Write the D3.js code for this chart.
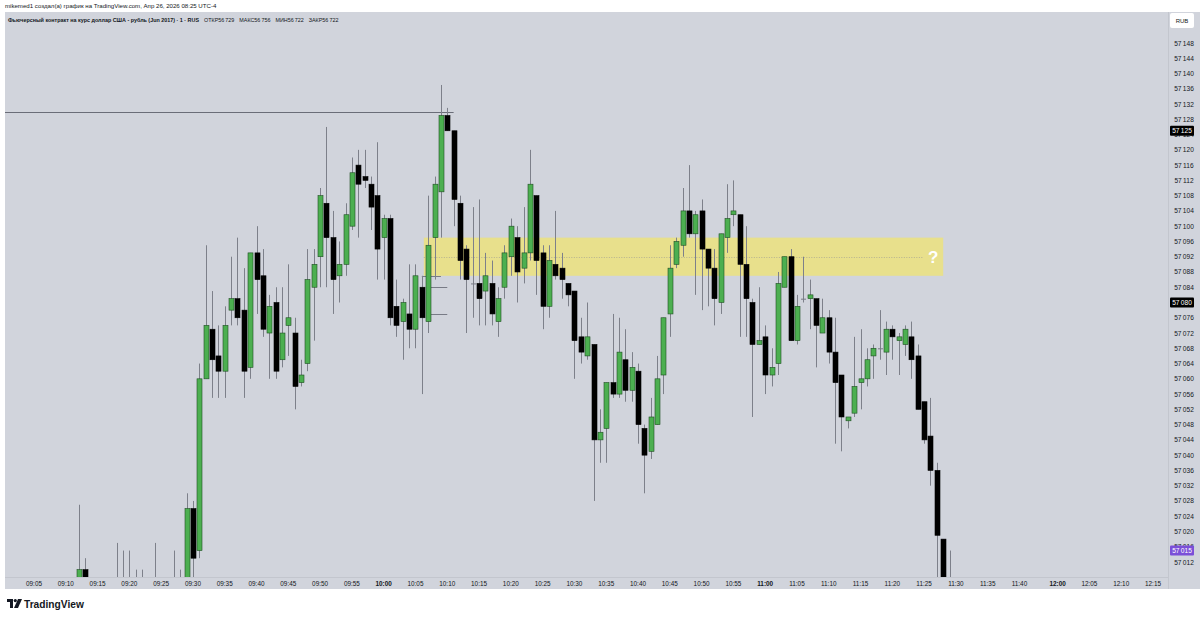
<!DOCTYPE html>
<html>
<head>
<meta charset="utf-8">
<script src="https://cdn.jsdelivr.net/npm/d3@7"></script>
<style>
body { margin: 0; background: #fff; }
svg { display: block; font-family: "Liberation Sans", Arial, sans-serif; }
</style>
</head>
<body>
<script>
// ===== Данные (1-минутные свечи) =====
const times = ["09:12","09:13","09:18","09:19","09:20","09:21","09:22","09:24","09:27","09:28",
  "09:29","09:30","09:31","09:32","09:33","09:34","09:35","09:36","09:37","09:38","09:39","09:40",
  "09:41","09:42","09:43","09:44","09:45","09:46","09:47","09:48","09:49","09:50","09:51","09:52",
  "09:53","09:54","09:55","09:56","09:57","09:58","09:59","10:00","10:01","10:02","10:03","10:04",
  "10:05","10:06","10:07","10:08","10:09","10:10","10:11","10:12","10:13","10:14","10:15","10:16",
  "10:17","10:18","10:19","10:20","10:21","10:22","10:23","10:24","10:25","10:26","10:27","10:28",
  "10:29","10:30","10:31","10:32","10:33","10:34","10:35","10:36","10:37","10:38","10:39","10:40",
  "10:41","10:42","10:43","10:44","10:45","10:46","10:47","10:48","10:49","10:50","10:51","10:52",
  "10:53","10:54","10:55","10:56","10:57","10:58","10:59","11:00","11:01","11:02","11:03","11:04",
  "11:05","11:06","11:07","11:08","11:09","11:10","11:11","11:12","11:13","11:14","11:15","11:16",
  "11:17","11:18","11:19","11:20","11:21","11:22","11:23","11:24","11:25","11:26","11:27","11:28","11:29"];
const opens = [57008,57010,57003,57003,57003,57003,57003,57003,57003,57003,
  57000,57026,57015,57060,57073,57066,57062,57078,57081,57078,57063,57093,
  57087,57072,57080,57065,57074,57072,57059,57064,57084,57092,57106,57097,
  57087,57090,57100,57116,57113,57111,57108,57097,57102,57079,57075,57077,
  57073,57084,57075,57097,57109,57129,57125,57106,57094,57085,57085,57083,
  57085,57075,57084,57092,57097,57089,57093,57108,57093,57079,57090,57089,
  57085,57083,57071,57066,57069,57044,57047,57059,57056,57065,57057,57062,
  57047,57041,57048,57061,57077,57090,57095,57104,57098,57104,57094,57089,
  57080,57097,57103,57103,57090,57080,57069,57071,57061,57064,57084,57092,
  57070,57081,57081,57081,57072,57076,57067,57061,57049,57051,57059,57060,
  57066,57068,57067,57073,57070,57069,57071,57066,57054,57045,57036,57018,57004];
const highs = [57027,57013,57017,57015,57015,57010,57010,57017,57015,57010,
  57030,57028,57064,57095,57083,57074,57079,57092,57097,57089,57093,57100,
  57094,57082,57084,57084,57090,57076,57065,57094,57094,57110,57126,57104,
  57096,57106,57118,57120,57120,57113,57122,57103,57103,57086,57081,57090,
  57090,57087,57108,57113,57137,57131,57125,57108,57095,57105,57107,57093,
  57091,57084,57095,57102,57100,57105,57120,57108,57095,57095,57104,57093,
  57085,57083,57076,57080,57069,57052,57059,57077,57076,57073,57067,57064,
  57048,57055,57066,57076,57095,57097,57110,57116,57104,57107,57094,57094,
  57098,57111,57112,57103,57100,57081,57084,57074,57068,57088,57092,57094,
  57082,57092,57086,57081,57081,57078,57076,57061,57050,57071,57073,57068,
  57069,57078,57075,57074,57072,57074,57075,57069,57054,57055,57038,57018,57015];
const lows = [57000,57004,57000,57000,57000,57000,57000,57000,57000,57000,
  56998,57004,57013,57060,57055,57055,57055,57074,57074,57055,57060,57077,
  57071,57060,57060,57063,57066,57052,57058,57062,57070,57084,57084,57077,
  57080,57087,57099,57097,57110,57099,57086,57086,57074,57071,57065,57068,
  57068,57056,57072,57086,57097,57125,57100,57086,57072,57076,57074,57074,
  57074,57071,57081,57087,57080,57085,57091,57082,57073,57076,57086,57081,
  57079,57060,57064,57065,57028,57038,57038,57055,57055,57054,57054,57043,
  57030,57039,57048,57056,57071,57089,57092,57097,57082,57078,57079,57074,
  57077,57093,57100,57071,57071,57050,57069,57056,57058,57061,57084,57070,
  57069,57080,57073,57063,57072,57064,57043,57041,57047,57050,57052,57058,
  57060,57065,57061,57065,57061,57066,57060,57052,57043,57032,57000,56998,57000];
const closes = [57010,57008,57004,57004,57004,57004,57004,57004,57004,57004,
  57026,57013,57060,57074,57065,57062,57074,57081,57076,57062,57093,57086,
  57073,57079,57062,57072,57076,57058,57061,57086,57090,57108,57097,57086,
  57090,57103,57114,57111,57112,57105,57094,57102,57076,57074,57080,57073,
  57087,57076,57095,57111,57129,57125,57107,57091,57086,57085,57081,57087,
  57077,57081,57093,57100,57088,57093,57111,57091,57079,57091,57087,57086,
  57082,57070,57067,57071,57044,57046,57059,57056,57067,57057,57063,57048,
  57040,57050,57060,57076,57089,57096,57104,57098,57103,57094,57089,57081,
  57098,57102,57104,57090,57081,57069,57070,57061,57063,57085,57092,57070,
  57079,57081,57082,57074,57076,57067,57059,57050,57050,57058,57060,57065,
  57068,57068,57073,57071,57071,57073,57065,57052,57044,57036,57019,57000,57005];

// Подписи оси времени
const timeTicks = ["09:05","09:10","09:15","09:20","09:25","09:30","09:35","09:40","09:45","09:50",
  "09:55","10:00","10:05","10:10","10:15","10:20","10:25","10:30","10:35","10:40","10:45","10:50",
  "10:55","11:00","11:05","11:10","11:15","11:20","11:25","11:30","11:35","11:40",
  "12:00","12:05","12:10","12:15"];

// Легенда (OHLC из заголовка)
const legendNames = ["ОТКР", "МАКС", "МИН", "ЗАКР"];
const legendValues = [56729, 56756, 56722, 56722];

// Ценовые метки на шкале и зона
const lastLines = [57125, 57080];
const currentPrice = 57015;
const highLine = { price: 57130, end: "10:11" };
const shortLevels = [[57087, "10:06", "10:09"], [57084, "10:07", "10:10"], [57077, "10:07", "10:10"]];
const zone = { top: 57097, bottom: 57087, mid: 57092, from: "10:06", to: "11:28" };

// Время -> номер бара (на оси нет баров 11:46–11:59)
function slot(t) {
  const [h, m] = t.split(":").map(Number);
  let s = h * 60 + m - (9 * 60 + 5);
  if (h >= 12) s -= 14;
  return s;
}

// Формат цены с тонким пробелом: 57 148
function fmt(v) {
  return String(v).replace(/^(\d\d)/, "$1\u2009");
}

const W = 1200, H = 619;
const plot = { left: 5, right: 1168, top: 12, bottom: 577 };

const svg = d3.select("body").append("svg").attr("width", W).attr("height", H);

const x = d3.scaleLinear().domain([0, 176]).range([34, 1153]);
const y = d3.scaleLinear().domain([57012, 57148]).range([562, 43]);

// Фон панели
svg.append("rect").attr("x", plot.left).attr("y", plot.top)
  .attr("width", W - plot.left).attr("height", 589 - plot.top).attr("fill", "#d1d4dc");

// Шапка
svg.append("text").attr("x", 5).attr("y", 8).attr("font-size", 6.1).attr("fill", "#131722")
  .text("mikemed1 создал(а) график на TradingView.com, Апр 26, 2026 08:25 UTC-4");

const title = svg.append("text").attr("x", 8).attr("y", 22.3).attr("font-size", 5.4)
  .attr("font-weight", 600).attr("fill", "#131722");
title.append("tspan").text("Фьючерсный контракт на курс доллар США - рубль (Jun 2017) · 1 · RUS");
legendNames.forEach((n, i) => {
  title.append("tspan").attr("dx", 5).attr("font-weight", 400).text(n + fmt(legendValues[i]));
});

svg.append("defs").append("clipPath").attr("id", "plotClip")
  .append("rect").attr("x", plot.left).attr("y", plot.top)
  .attr("width", plot.right - plot.left).attr("height", plot.bottom - plot.top);

const g = svg.append("g").attr("clip-path", "url(#plotClip)");

// Зона
g.append("rect")
  .attr("x", x(slot(zone.from)) + 2).attr("y", y(zone.top))
  .attr("width", x(slot(zone.to)) - x(slot(zone.from)) - 2)
  .attr("height", y(zone.bottom) - y(zone.top))
  .attr("fill", "rgba(255,235,59,0.5)");
g.append("line")
  .attr("x1", x(slot(zone.from)) + 2).attr("x2", x(slot(zone.to)) - 20)
  .attr("y1", Math.round(y(zone.mid)) + 0.5).attr("y2", Math.round(y(zone.mid)) + 0.5)
  .attr("stroke", "#a8a690").attr("stroke-dasharray", "1,1.5").attr("stroke-width", 0.8);
svg.append("text").attr("x", x(slot(zone.to)) - 10).attr("y", y(zone.mid) + 6)
  .attr("text-anchor", "middle").attr("font-size", 17).attr("font-weight", "bold")
  .attr("fill", "#fff").text("?");

// Горизонтальные линии
g.append("line").attr("x1", plot.left).attr("x2", x(slot(highLine.end)))
  .attr("y1", Math.round(y(highLine.price)) + 0.5).attr("y2", Math.round(y(highLine.price)) + 0.5)
  .attr("stroke", "#6a6d78").attr("stroke-width", 1);
g.selectAll(".lvl").data(shortLevels).join("line").attr("class", "lvl")
  .attr("x1", d => x(slot(d[1]))).attr("x2", d => x(slot(d[2])))
  .attr("y1", d => Math.round(y(d[0])) + 0.5).attr("y2", d => Math.round(y(d[0])) + 0.5)
  .attr("stroke", "#787b86").attr("stroke-width", 1);

// Свечи
const candles = times.map((t, i) => ({ i: slot(t), o: opens[i], h: highs[i], l: lows[i], c: closes[i] }));
const bw = 5;

g.selectAll(".wick").data(candles).join("line").attr("class", "wick")
  .attr("x1", d => Math.round(x(d.i)) + 0.5).attr("x2", d => Math.round(x(d.i)) + 0.5)
  .attr("y1", d => y(d.h)).attr("y2", d => y(d.l))
  .attr("stroke", "#7d808a").attr("stroke-width", 1);

g.selectAll(".body").data(candles).join("rect").attr("class", "body")
  .attr("x", d => Math.round(x(d.i)) - 2)
  .attr("y", d => y(Math.max(d.o, d.c)))
  .attr("width", bw)
  .attr("height", d => Math.max(1, Math.abs(y(d.o) - y(d.c))))
  .attr("fill", d => d.c > d.o ? "#4caf50" : d.c == d.o ? "#787b86" : "#000")
  .attr("stroke", d => d.c > d.o ? "#1e4d22" : d.c == d.o ? "none" : "#000")
  .attr("stroke-width", 0.6);

// Ось цены
const yAxis = svg.append("g");
yAxis.append("line").attr("x1", plot.right + 0.5).attr("x2", plot.right + 0.5)
  .attr("y1", plot.top).attr("y2", 589).attr("stroke", "#c3c6ce");
yAxis.selectAll("text").data(d3.range(57012, 57149, 4)).join("text")
  .attr("x", 1184).attr("y", d => y(d) + 2.5).attr("text-anchor", "middle")
  .attr("font-size", 6.6).attr("fill", "#131722")
  .text(d => fmt(d));

function priceTag(v, color) {
  const gg = svg.append("g");
  gg.append("rect").attr("x", 1170).attr("y", y(v) - 5).attr("width", 24).attr("height", 10)
    .attr("rx", 1).attr("fill", color);
  gg.append("text").attr("x", 1182).attr("y", y(v) + 2.5).attr("text-anchor", "middle")
    .attr("font-size", 6.6).attr("fill", "#fff").text(fmt(v));
}
lastLines.forEach(v => priceTag(v, "#000"));
priceTag(currentPrice, "#7b4fd8");

// Кнопка валюты
svg.append("rect").attr("x", 1170).attr("y", 13).attr("width", 24).attr("height", 15)
  .attr("rx", 2).attr("fill", "#fff");
svg.append("text").attr("x", 1182).attr("y", 22.5).attr("text-anchor", "middle")
  .attr("font-size", 6).attr("fill", "#131722").text("RUB");

// Ось времени
svg.append("line").attr("x1", plot.left).attr("x2", plot.right)
  .attr("y1", plot.bottom + 0.5).attr("y2", plot.bottom + 0.5).attr("stroke", "#c3c6ce");
svg.selectAll(".tt").data(timeTicks).join("text").attr("class", "tt")
  .attr("x", d => x(slot(d))).attr("y", 585.5).attr("text-anchor", "middle")
  .attr("font-size", 6.4).attr("fill", "#131722")
  .attr("font-weight", d => d.endsWith(":00") ? "bold" : "normal")
  .text(d => d);

// Логотип
const logo = svg.append("g").attr("transform", "translate(7,599)");
logo.append("path").attr("d", "M0 0H6V9H3V3H0Z").attr("fill", "#131722");
logo.append("circle").attr("cx", 8.3).attr("cy", 1.6).attr("r", 1.6).attr("fill", "#131722");
logo.append("path").attr("d", "M11 0H15L11 9H7Z").attr("fill", "#131722");
logo.append("text").attr("x", 17).attr("y", 9).attr("font-size", 10.2).attr("font-weight", 600)
  .attr("fill", "#131722").text("TradingView");
</script>
</body>
</html>
